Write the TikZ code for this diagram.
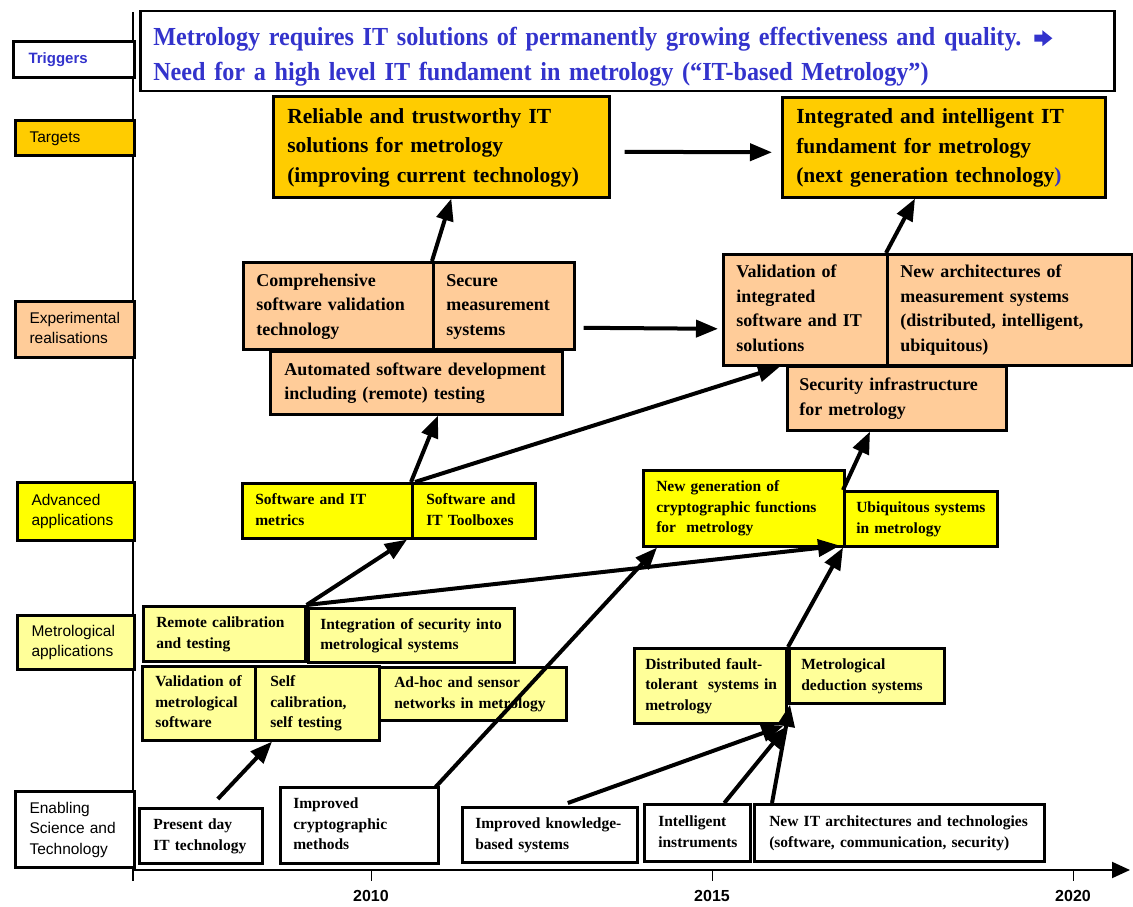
\documentclass[tikz,border=0pt]{standalone}
\usepackage{fontspec}
\setmainfont{Liberation Serif}
\newfontfamily\sansf{Liberation Sans}
\newfontfamily\titlef[FakeStretch=0.93]{Liberation Serif}
\usetikzlibrary{arrows.meta,calc}

\definecolor{tblue}{RGB}{51,51,204}
\definecolor{tgt}{HTML}{FFCC00}
\definecolor{expc}{HTML}{FFCC99}
\definecolor{advc}{HTML}{FFFF00}
\definecolor{metc}{HTML}{FFFF99}

% box text: fixed lines, never re-wrapped
\newcommand\lns[1]{\noindent\begin{tabular}{@{}l@{}}#1\end{tabular}}
% heavy arrow sign used inside the trigger statement
\newcommand\heavyarrow{\tikz[baseline=0pt]\fill[tblue] (0pt,4pt) -- (8pt,4pt) -- (8pt,-0.5pt) -- (18pt,7.5pt) -- (8pt,15.5pt) -- (8pt,11pt) -- (0pt,11pt) -- cycle;}

\tikzset{
  bx/.style={draw=black, line width=2.6pt, anchor=north west, align=left,
             inner xsep=13pt, inner ysep=2pt},
  big/.style={bx, fill=tgt, inner xsep=14pt, font=\fontsize{21.5}{29.5}\selectfont\bfseries},
  mid/.style={bx, fill=expc, font=\fontsize{18}{24.5}\selectfont\bfseries},
  sml/.style={bx, font=\fontsize{15.5}{20.5}\selectfont\bfseries},
  adv/.style={sml, fill=advc},
  met/.style={sml, fill=metc},
  ena/.style={sml, fill=white},
  lab/.style={bx, line width=3pt, inner xsep=14pt, font=\sansf\fontsize{15.5}{20.5}\selectfont},
  arr/.style={line width=4pt, -{Triangle[length=22pt,width=17pt]}},
  yr/.style={font=\sansf\bfseries\fontsize{16}{18}\selectfont},
}

\begin{document}
\begin{tikzpicture}[x=1pt,y=-1pt]
\useasboundingbox (0,0) rectangle (1133,907);

% time axes
\coordinate (vtop) at (133,12);
\coordinate (vbot) at (133,881);
\coordinate (orig) at (133,870);
\coordinate (xend) at (1130,870);
\draw[line width=2pt] (vtop) -- (vbot);
\draw[line width=2pt, -{Triangle[length=18pt,width=16pt]}] (orig) -- (xend);
\foreach \xx/\yy in {371/2010, 712/2015, 1073/2020}{
  \coordinate (t\yy) at (\xx,870);
  \draw[line width=1pt] (t\yy) -- ++(0,11);
  \node[yr] (y\yy) at (\xx,896) {\yy};
}

% row labels
\node[lab, fill=white, text=tblue, inner xsep=15pt, font=\sansf\bfseries\fontsize{15}{20}\selectfont,
      minimum width=121pt, minimum height=36pt, text width=91pt] (Ltrig) at (12,40) {\lns{Triggers}};
\node[lab, fill=tgt, minimum width=119pt, minimum height=35pt, text width=91pt] (Ltarg) at (14,119) {\lns{Targets}};
\node[lab, fill=expc, minimum width=119pt, minimum height=56pt, text width=91pt] (Lexp) at (14,300) {\lns{Experimental\\realisations}};
\node[lab, fill=advc, minimum width=117pt, minimum height=58pt, text width=89pt] (Ladv) at (16,481) {\lns{Advanced\\applications}};
\node[lab, fill=metc, minimum width=117pt, minimum height=54pt, text width=89pt] (Lmet) at (16,614) {\lns{Metrological\\applications}};
\node[lab, fill=white, minimum width=119pt, minimum height=76pt, text width=91pt] (Lena) at (14,790) {\lns{Enabling\\Science and\\Technology}};

% trigger statement
\node[bx, fill=white, line width=2.5pt, minimum width=974pt, minimum height=80pt, text width=948pt,
      text=tblue, font=\titlef\fontsize{26}{35}\selectfont\bfseries] (trig) at (139,10)
  {\raisebox{-5pt}[\height][\depth]{\lns{Metrology requires IT solutions of permanently growing effectiveness and quality. \heavyarrow\\
   Need for a high level IT fundament in metrology (“IT-based Metrology”)}}};

% targets
\node[big, minimum width=336pt, minimum height=101pt, text width=308pt] (T1) at (272,95)
  {\lns{Reliable and trustworthy IT\\solutions for metrology\\(improving current technology)}};
\node[big, minimum width=323pt, minimum height=100pt, text width=295pt] (T2) at (781,96)
  {\lns{Integrated and intelligent IT\\fundament for metrology\\(next generation technology\textcolor{tblue}{)}}};

% experimental realisations
\node[mid, minimum width=190pt, minimum height=87pt, text width=164pt] (E1) at (242,261)
  {\lns{Comprehensive\\software validation\\technology}};
\node[mid, minimum width=141pt, minimum height=87pt, text width=115pt] (E2) at (432,261)
  {\lns{Secure\\measurement\\systems}};
\node[mid, inner xsep=14pt, minimum width=292pt, minimum height=63pt, text width=264pt] (E3) at (269,350)
  {\lns{Automated software development\\including (remote) testing}};
\node[mid, minimum width=164pt, minimum height=111pt, text width=138pt] (E4) at (722,253)
  {\lns{Validation of\\integrated\\software and IT\\solutions}};
\node[mid, minimum width=245pt, minimum height=111pt, text width=219pt] (E5) at (886,253)
  {\lns{New architectures of\\measurement systems\\(distributed, intelligent,\\ubiquitous)}};
\node[mid, inner xsep=12pt, minimum width=219pt, minimum height=64pt, text width=195pt] (E6) at (786,365)
  {\lns{Security infrastructure\\for metrology}};

% advanced applications
\node[adv, minimum width=170pt, minimum height=55pt, text width=144pt] (A1) at (241,482)
  {\lns{Software and IT\\metrics}};
\node[adv, inner xsep=14pt, minimum width=123pt, minimum height=55pt, text width=95pt] (A2) at (411,482)
  {\lns{Software and\\IT Toolboxes}};
\node[adv, minimum width=201pt, minimum height=76pt, text width=175pt] (A3) at (642,469)
  {\lns{New generation of\\cryptographic functions\\for~ metrology}};
\node[adv, inner xsep=12pt, minimum width=153pt, minimum height=55pt, text width=129pt] (A4) at (843,490)
  {\lns{Ubiquitous systems\\in metrology}};

% metrological applications
\node[met, minimum width=162pt, minimum height=55pt, text width=136pt] (M1) at (142,605)
  {\lns{Remote calibration\\and testing}};
\node[met, inner xsep=12pt, minimum width=206pt, minimum height=54pt, text width=182pt] (M2) at (307,607)
  {\lns{Integration of security into\\metrological systems}};
\node[met, minimum width=113pt, minimum height=74pt, text width=87pt] (M3) at (141,665)
  {\lns{Validation of\\metrological\\software}};
\node[met, inner xsep=15pt, minimum width=124pt, minimum height=74pt, text width=94pt] (M4) at (254,665)
  {\lns{Self\\calibration,\\self testing}};
\node[met, inner xsep=15pt, minimum width=187pt, minimum height=53pt, text width=157pt] (M5) at (378,666)
  {\lns{Ad-hoc and sensor\\networks in metrology}};
\node[met, inner xsep=11pt, minimum width=152pt, minimum height=75pt, text width=130pt] (M6) at (633,647)
  {\lns{Distributed fault-\\tolerant~ systems in\\metrology}};
\node[met, inner xsep=12pt, minimum width=155pt, minimum height=55pt, text width=131pt] (M7) at (788,647)
  {\lns{Metrological\\deduction systems}};

% enabling science and technology
\node[ena, inner xsep=14pt, minimum width=123pt, minimum height=55pt, text width=95pt] (N1) at (138,807)
  {\lns{Present day\\IT technology}};
\node[ena, minimum width=158pt, minimum height=76pt, text width=132pt] (N2) at (279,786)
  {\lns{Improved\\cryptographic\\methods}};
\node[ena, minimum width=175pt, minimum height=55pt, text width=149pt] (N3) at (461,806)
  {\lns{Improved knowledge-\\based systems}};
\node[ena, inner xsep=14pt, minimum width=106pt, minimum height=57pt, text width=78pt] (N4) at (643,803)
  {\lns{Intelligent\\instruments}};
\node[ena, inner xsep=15pt, minimum width=290pt, minimum height=57pt, text width=260pt] (N5) at (753,803)
  {\lns{New IT architectures and technologies\\(software, communication, security)}};

% dependencies
\draw[arr] ($(N1.north)+(17,-8)$) -- ($(M4.south west)+(18,0)$);
\draw[arr] ($(N2.north east)+(-4,1)$) -- ($(A3.south west)+(15,0)$);
\draw[arr] ($(N3.north)+(18,-3)$) -- ($(M6.south east)+(-4,1)$);
\draw[arr] ($(N4.north)+(27,0)$) -- ($(M6.south east)+(-1,2)$);
\draw[arr] ($(N5.north west)+(19,0)$) -- ($(M7.south west)+(2,0)$);
\draw[arr] (M7.north west) -- (A4.south west);
\draw[arr] (M1.north east) -- ($(A4.south west)+(-3,-2)$);
\draw[arr] (M1.north east) -- ($(A2.south west)+(-4,0)$);
\draw[arr] (A2.north west) -- ($(E3.south west)+(169,0)$);
\draw[arr] ($(A2.north west)+(4,0)$) -- ($(E4.south west)+(58,0)$);
\draw[arr] (A4.north west) -- ($(E6.south west)+(84,0)$);
\draw[arr] (E2.north west) -- ($(T1.south)+(10,0)$);
\draw[arr] (E5.north west) -- ($(T2.south west)+(134,0)$);
\draw[arr] ($(T1.east)+(14,5)$) -- ($(T2.west)+(-9,5)$);
\draw[arr] ($(E2.east)+(8,22)$) -- ($(E4.west)+(-4,19)$);
\end{tikzpicture}
\end{document}
